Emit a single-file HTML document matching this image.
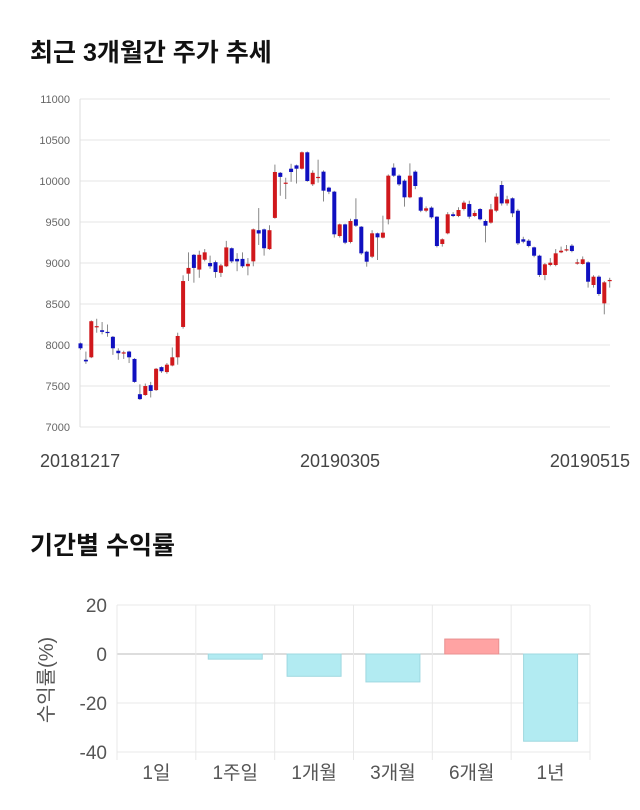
<!DOCTYPE html>
<html><head><meta charset="utf-8"><style>
body{margin:0;background:#fff;width:640px;height:810px;overflow:hidden;font-family:"Liberation Sans","Noto Sans CJK KR",sans-serif}
svg{position:absolute;left:0;top:0}
</style></head><body>
<svg width="640" height="810">
<text x="30" y="61" font-size="25" font-weight="bold" fill="#111">최근 3개월간 주가 추세</text>
<g id="topg"></g>
<text x="30" y="554" font-size="25" font-weight="bold" fill="#111">기간별 수익률</text>
<g id="botg"></g>
</svg>
<script>
const opens=[8020,7820,7850,8220,8180,8160,8100,7930,7910,7920,7830,7400,7390,7510,7450,7730,7670,7750,7850,8220,8870,9100,8920,9040,9000,9010,8880,8960,9180,9050,9050,8960,9020,9400,9410,9170,9550,10100,9980,10150,10190,10150,10350,9960,10050,10114,9919,9870,9329,9471,9256,9533,9443,9138,9077,9362,9309,9533,10163,10065,10004,9801,10114,9801,9638,9675,9565,9232,9362,9594,9573,9658,9719,9573,9658,9512,9492,9638,9951,9727,9789,9638,9289,9272,9191,9089,8854,8976,8976,9130,9167,9211,8992,8988,9008,8732,8833,8508,8793];
const closes=[7960,7800,8290,8230,8160,8150,7960,7900,7910,7850,7550,7340,7500,7440,7710,7680,7760,7850,8110,8780,8940,8940,9100,9130,8960,8890,8970,9190,9020,9020,8960,8990,9410,9360,9180,9400,10110,10050,9980,10110,10150,10350,10000,10100,10050,9882,9870,9350,9471,9248,9512,9455,9118,9016,9362,9313,9370,10065,10065,9959,9801,10065,9939,9638,9667,9557,9207,9289,9594,9573,9646,9736,9565,9610,9533,9455,9654,9809,9727,9776,9606,9240,9260,9207,9089,8854,8984,9004,9118,9150,9167,9146,9008,9045,8772,8833,8622,8764,8793];
const highs=[8030,7920,8300,8320,8280,8250,8110,7960,7930,7930,7840,7520,7530,7550,7720,7740,7780,7970,8150,8850,9130,9110,9150,9170,9090,9030,8990,9270,9190,9120,9130,9060,9420,9670,9420,9460,10200,10110,10040,10210,10200,10360,10360,10130,10260,10130,9930,9880,9480,9480,9540,9789,9450,9150,9400,9370,9577,10080,10215,10080,10020,10215,10130,9810,9690,9690,9570,9300,9620,9620,9680,9760,9760,9640,9670,9530,9720,9850,10000,9820,9800,9660,9320,9290,9200,9100,9000,9060,9170,9200,9220,9230,9050,9080,9020,8850,8850,8780,8820];
const lows=[7940,7770,7840,8150,8130,8100,7880,7820,7830,7780,7540,7330,7380,7360,7440,7660,7650,7740,7760,8200,8780,8760,8820,9020,8930,8820,8830,8950,9000,8900,8940,8850,8960,9220,9090,9160,9540,9820,9780,9990,9970,10140,9990,9940,9980,9750,9840,9310,9310,9230,9240,9440,9100,8955,9060,9037,9300,9471,10050,9940,9687,9790,9900,9620,9620,9540,9190,9200,9350,9560,9560,9640,9540,9560,9520,9252,9480,9620,9700,9700,9560,9220,9240,9190,9070,8830,8790,8960,8960,9120,9140,9130,8980,8980,8700,8700,8600,8374,8700];
const yTicks=[7000,7500,8000,8500,9000,9500,10000,10500,11000];
const xLabels=["20181217","20190305","20190515"];
const periods=["1일","1주일","1개월","3개월","6개월","1년"];
const returns=[0,-2.1,-9.1,-11.4,6.1,-35.6];
const rTicks=[20,0,-20,-40];

const NS="http://www.w3.org/2000/svg";
function mk(p,t,a){const e=document.createElementNS(NS,t);for(const k in a)e.setAttribute(k,a[k]);p.appendChild(e);return e;}
const topG=document.getElementById('topg');
const x0=80,x1=610,yT=99,yB=427;
const yS=v=>yB-(v-7000)/(4000)*(yB-yT);
const xS=i=>80.5+i*(609.7-80.5)/(opens.length-1);
yTicks.forEach(v=>{
 const l=mk(topG,'line',{x1:x0,x2:x1,y1:yS(v),y2:yS(v),stroke:'#e6e6e6'});
 
 
 const t=mk(topG,'text',{x:70,y:yS(v)+4,'font-size':11,fill:'#666','text-anchor':'end'});t.textContent=v;
 
 
});
const ax=mk(topG,'line',{x1:x0,x2:x0,y1:yT,y2:yB,stroke:'#ddd'});


opens.forEach((o,i)=>{
 const c=closes[i],x=xS(i),up=c>=o,col=up?'#d0181c':'#1010c0';
 const w=mk(topG,'line',{x1:x,x2:x,y1:yS(highs[i]),y2:yS(lows[i]),stroke:'#888','stroke-width':1});
 
 
 const t=yS(Math.max(o,c)),b=yS(Math.min(o,c));
 const r=mk(topG,'rect',{x:x-2,y:t,width:4,height:Math.max(1.2,b-t),fill:col});
 
 
});
[[40,'start'],[340,'middle'],[630,'end']].forEach((p,i)=>{
 const t=mk(topG,'text',{x:p[0],y:467,'font-size':18,fill:'#444','text-anchor':p[1]});t.textContent=xLabels[i];
 
 
});

const botG=document.getElementById('botg');
const bx0=117,bx1=590,by20=605,by0=654;
const rY=v=>by0-(v/20)*(by0-by20);
const cw=(bx1-bx0)/periods.length;
rTicks.forEach(v=>{
 const l=mk(botG,'line',{x1:bx0,x2:bx1,y1:rY(v),y2:rY(v),stroke:v===0?'#bbb':'#e8e8e8'});
 
 
 const t=mk(botG,'text',{x:107,y:rY(v)+7,'font-size':19,fill:'#555','text-anchor':'end'});t.textContent=v;
 
 
});
for(let i=0;i<=periods.length;i++){
 const l=mk(botG,'line',{x1:bx0+i*cw,x2:bx0+i*cw,y1:by20,y2:rY(-40)+8,stroke:'#e8e8e8'});
 
 
}
periods.forEach((p,i)=>{
 const v=returns[i],cx=bx0+cw*(i+0.5);
 if(v!==0){
  const y=Math.min(rY(v),by0),h=Math.abs(rY(v)-by0);
  const r=mk(botG,'rect',{x:cx-27,y:y,width:54,height:h,fill:v>0?'#ffa3a3':'#b2ebf2',stroke:v>0?'#e89090':'#9fd8e0','stroke-width':1});
  
  
 }
 const t=mk(botG,'text',{x:cx,y:779,'font-size':19,fill:'#555','text-anchor':'middle'});t.textContent=p;
 
 
});
const yt=mk(botG,'text',{x:0,y:0,'font-size':20,fill:'#555','text-anchor':'middle',transform:'translate(53,680) rotate(-90)'});
yt.textContent='수익률(%)';


</script>
</body></html>
